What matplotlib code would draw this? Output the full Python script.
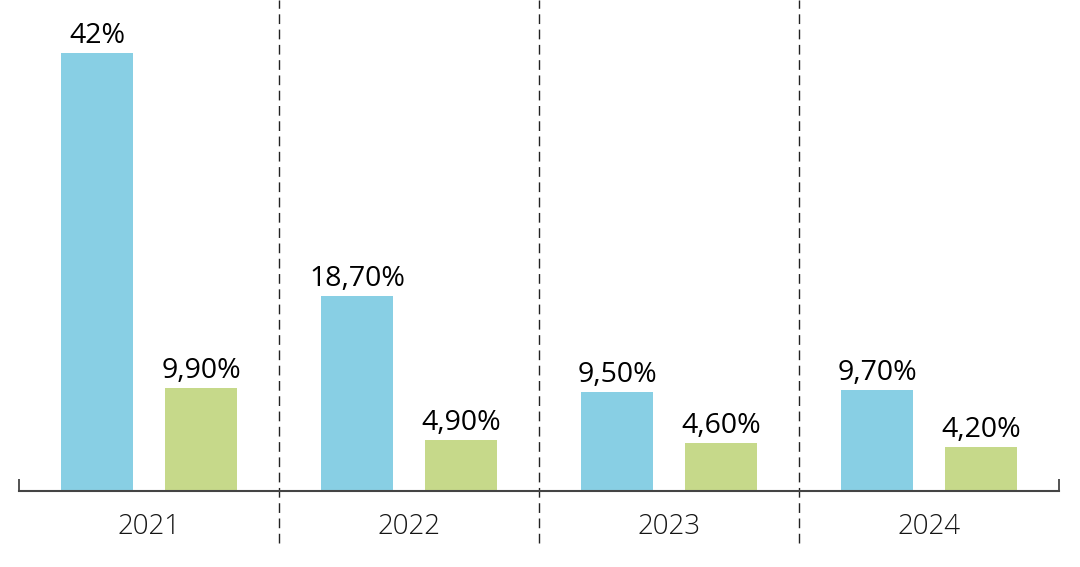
import numpy as np
import matplotlib
matplotlib.use("Agg")
import matplotlib.pyplot as plt

years = ["2021", "2022", "2023", "2024"]
blue_vals = [42.0, 18.7, 9.5, 9.7]
green_vals = [9.9, 4.9, 4.6, 4.2]
blue_labels = ["42%", "18,70%", "9,50%", "9,70%"]
green_labels = ["9,90%", "4,90%", "4,60%", "4,20%"]

plt.rcParams['font.family'] = ['Open Sans', 'DejaVu Sans']

fig = plt.figure(figsize=(10.8, 5.67), dpi=100)
ax = fig.add_axes([19 / 1080, 76 / 567, 1040 / 1080, 491 / 567])

x = np.arange(len(years))
w = 0.277
ax.bar(x - 0.2, blue_vals, w, color='#88CFE4')
ax.bar(x + 0.2, green_vals, w, color='#C6D98A')

for i in range(len(years)):
    ax.annotate(blue_labels[i], (x[i] - 0.2, blue_vals[i]), xytext=(0, 2),
                textcoords='offset points', ha='center', va='bottom',
                fontsize=20.5, color='black')
    ax.annotate(green_labels[i], (x[i] + 0.2, green_vals[i]), xytext=(0, 2),
                textcoords='offset points', ha='center', va='bottom',
                fontsize=20.5, color='black')
    ax.text(x[i], -3.45, years[i], ha='center', va='center', fontsize=20,
            fontweight='light', color='#151515')

ax.set_xlim(-0.5, 3.5)
ax.set_ylim(0, 47.1)

# dashed separators between years
ax.vlines([0.5, 1.5, 2.5], -5.0, 47.1, colors='#222222', linestyles=(0, (7, 4)),
          linewidth=1, clip_on=False)
# end ticks
ax.vlines([-0.5, 3.5], 0, 1.15, colors='#444444', linewidth=1.3, clip_on=False)
ax.axhline(0, color='#444444', linewidth=1.5, clip_on=False)

for s in ax.spines.values():
    s.set_visible(False)
ax.set_xticks([])
ax.set_yticks([])

fig.savefig("out.png", dpi=100)
